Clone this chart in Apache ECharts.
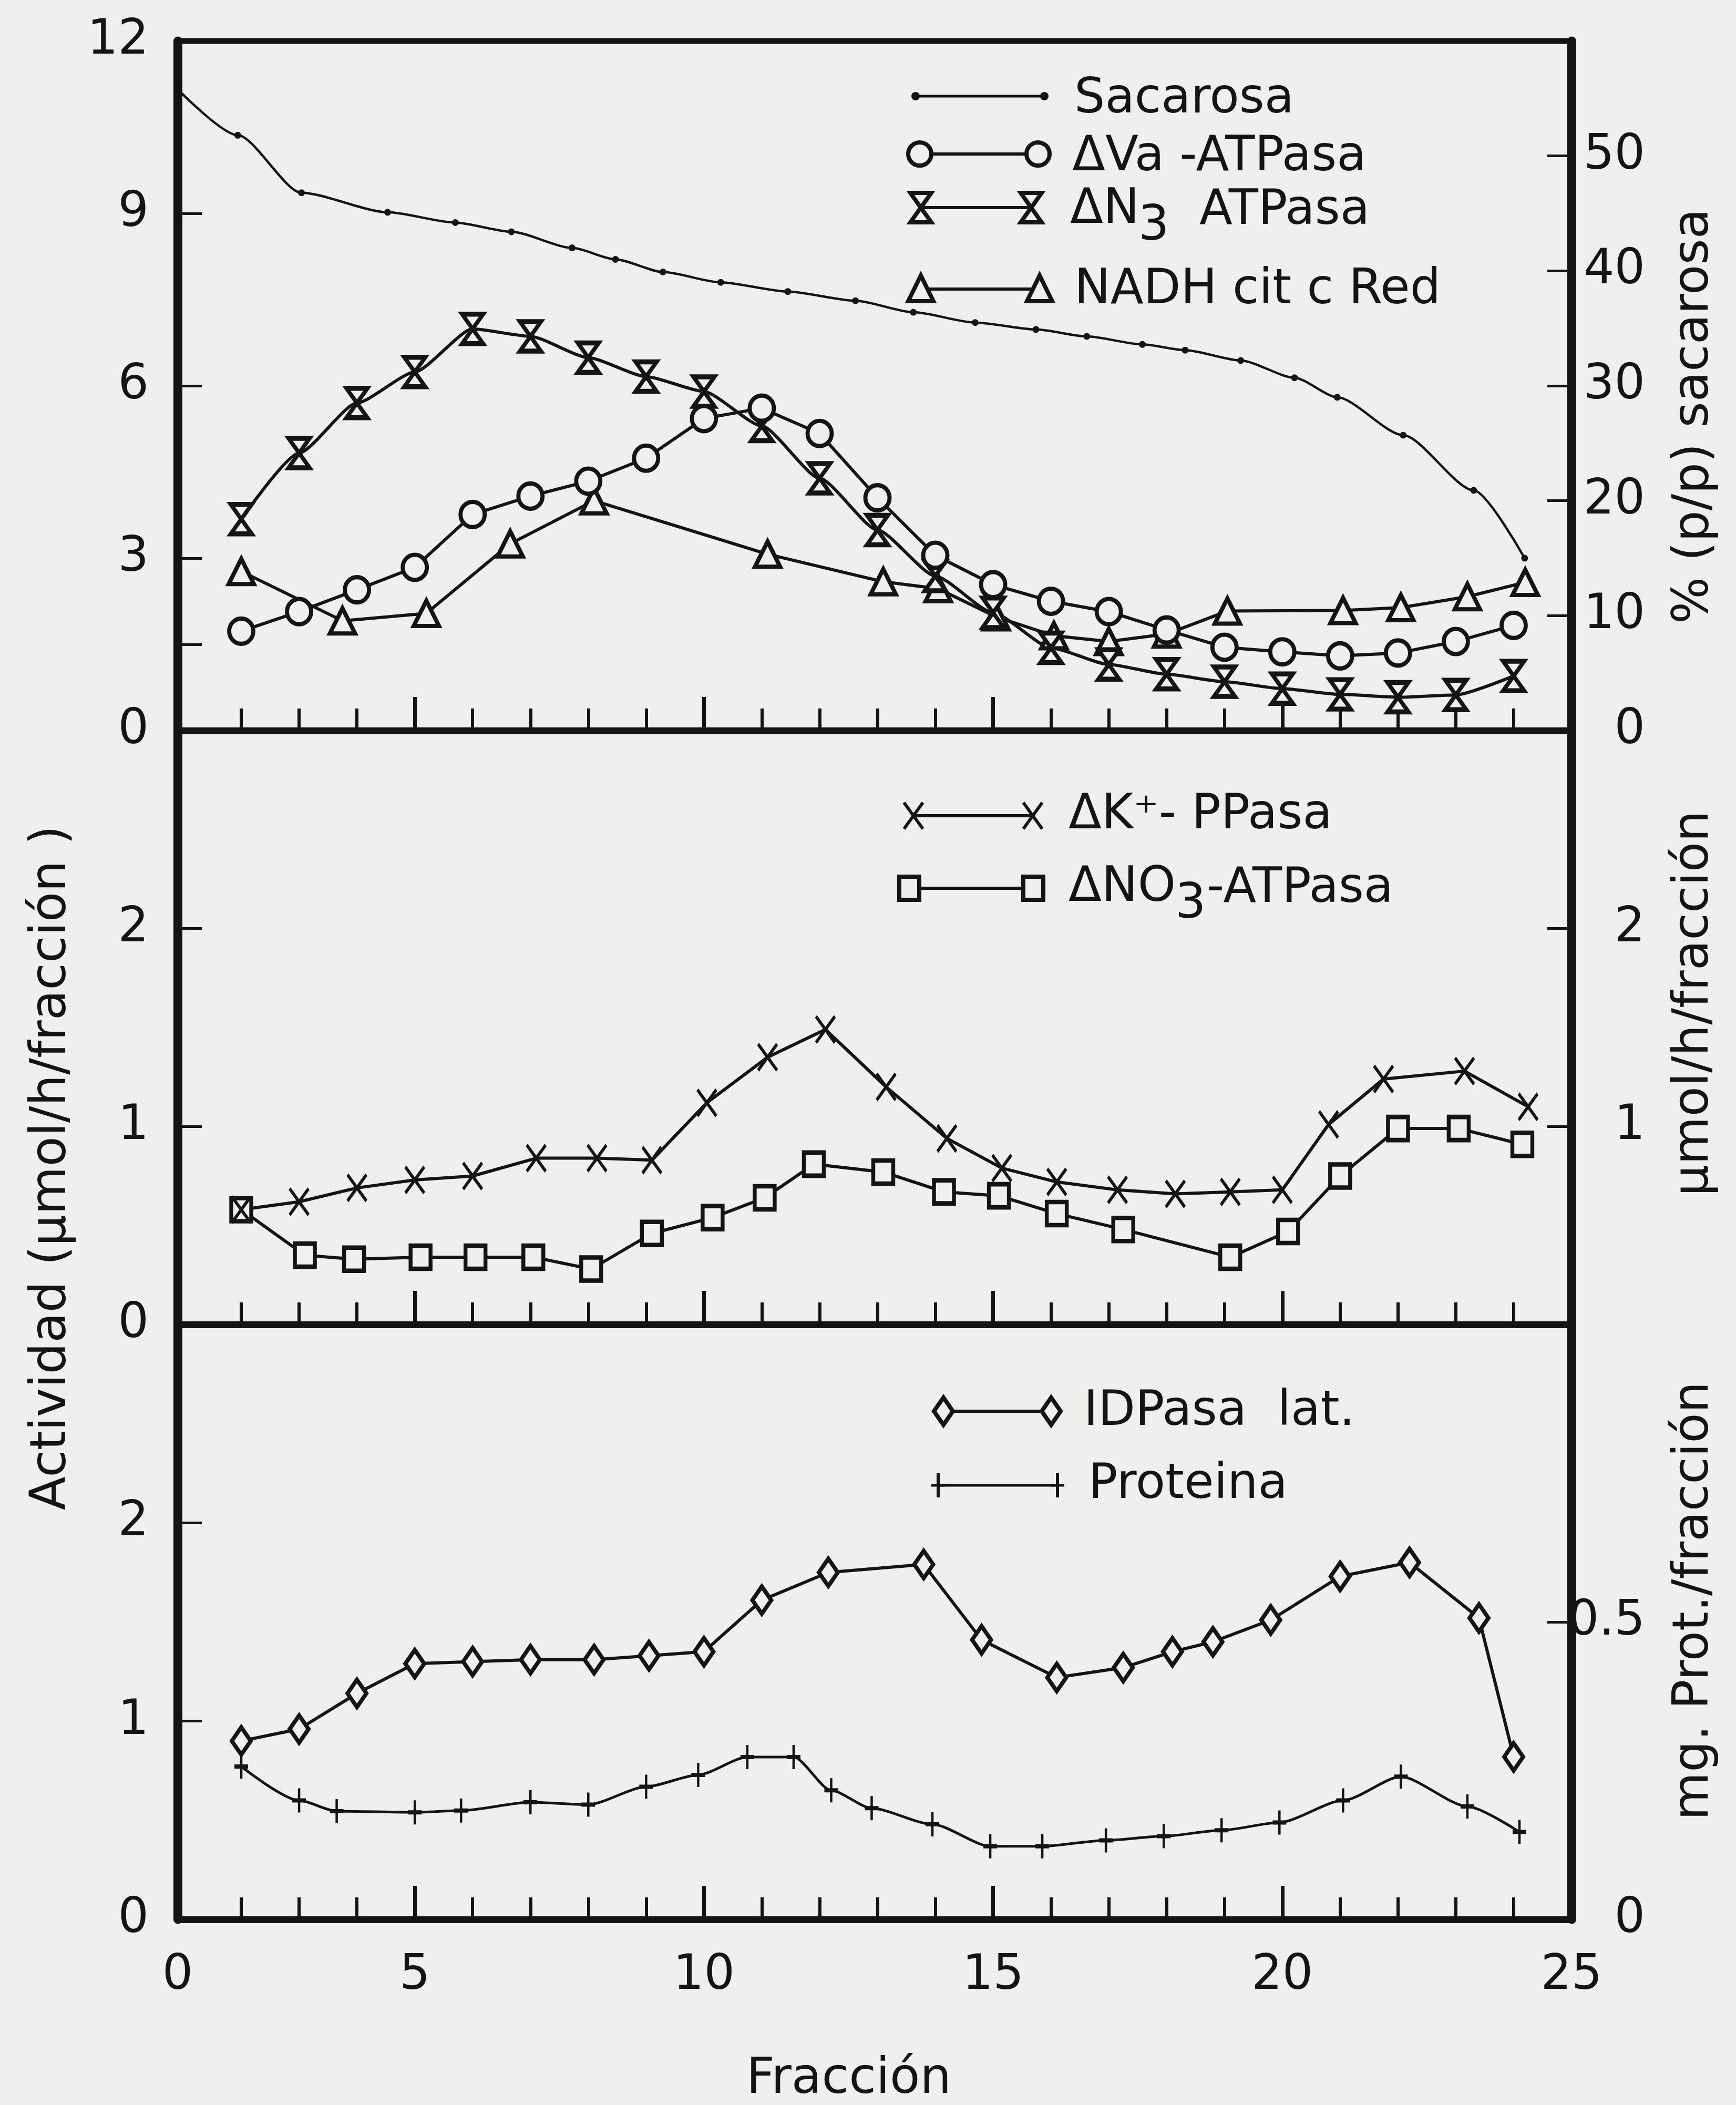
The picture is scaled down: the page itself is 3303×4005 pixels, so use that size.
<!DOCTYPE html>
<html>
<head>
<meta charset="utf-8">
<title>Fracciones del gradiente de sacarosa</title>
<script src="https://cdn.jsdelivr.net/npm/echarts@6/dist/echarts.min.js"></script>
<style>
  html, body { margin: 0; padding: 0; background: #efefed; }
  #chart { width: 3303px; height: 4005px; }
</style>
</head>
<body>
<div id="chart"></div>
<script>
// ---- datos ----
var fraccion = [2, 3, 4, 5, 6, 7, 8, 9, 10, 11, 12, 13, 14, 15, 16, 17, 18, 19, 20, 21, 22, 23, 24];

// panel superior
var sacarosaX = [0.9, 1.94, 3.04, 4.53, 5.7, 6.67, 7.72, 8.47, 9.29, 10.29, 11.45, 12.62, 13.62, 14.69, 15.74, 16.62, 17.58, 18.32, 19.28, 20.21, 20.95, 22.09, 23.31, 24.19];
var sacarosa = [55.8, 51.8, 46.8, 45.1, 44.2, 43.4, 42.0, 41.0, 39.9, 39.0, 38.2, 37.4, 36.4, 35.5, 34.9, 34.3, 33.6, 33.1, 32.2, 30.7, 29.0, 25.7, 20.9, 15.0];
var vaATPasa = [1.73, 2.07, 2.45, 2.84, 3.76, 4.08, 4.34, 4.74, 5.43, 5.61, 5.17, 4.05, 3.05, 2.54, 2.25, 2.07, 1.75, 1.45, 1.37, 1.30, 1.35, 1.55, 1.83];
var n3ATPasa = [3.68, 4.83, 5.70, 6.24, 6.99, 6.86, 6.49, 6.16, 5.90, 5.30, 4.39, 3.49, 2.69, 2.05, 1.44, 1.15, 0.98, 0.85, 0.73, 0.63, 0.58, 0.62, 0.95];
var nadhX = [2, 3.75, 5.2, 6.65, 8.1, 11.1, 13.1, 14.05, 15.05, 16.05, 17, 18, 19.05, 21.05, 22.05, 23.2, 24.2];
var nadh = [2.77, 1.91, 2.04, 3.25, 4.0, 3.07, 2.59, 2.47, 1.98, 1.65, 1.55, 1.68, 2.08, 2.09, 2.14, 2.33, 2.58];

// panel central
var kX = [2, 3, 4, 5, 6, 7.1, 8.15, 9.1, 10.05, 11.1, 12.1, 13.15, 14.2, 15.15, 16.1, 17.15, 18.15, 19.1, 20, 20.8, 21.75, 23.15, 24.25];
var kPPasa = [0.58, 0.62, 0.69, 0.73, 0.75, 0.84, 0.84, 0.83, 1.12, 1.35, 1.49, 1.2, 0.94, 0.79, 0.72, 0.68, 0.66, 0.67, 0.68, 1.01, 1.24, 1.28, 1.10];
var no3X = [2, 3.1, 3.95, 5.1, 6.05, 7.05, 8.05, 9.1, 10.15, 11.05, 11.9, 13.1, 14.15, 15.1, 16.1, 17.25, 19.1, 20.1, 21, 22, 23.05, 24.15];
var no3ATPasa = [0.58, 0.35, 0.33, 0.34, 0.34, 0.34, 0.28, 0.46, 0.54, 0.64, 0.81, 0.77, 0.67, 0.65, 0.56, 0.48, 0.34, 0.47, 0.75, 0.99, 0.99, 0.91];

// panel inferior
var idpX = [2, 3, 4, 5, 6, 7, 8.1, 9.05, 10, 11, 12.15, 13.8, 14.8, 16.1, 17.25, 18.1, 18.8, 19.8, 21, 22.2, 23.4, 24];
var idpasa = [0.90, 0.96, 1.14, 1.29, 1.30, 1.31, 1.31, 1.33, 1.35, 1.61, 1.75, 1.79, 1.41, 1.22, 1.27, 1.35, 1.40, 1.51, 1.73, 1.80, 1.52, 0.82];
var protX = [2, 3, 3.65, 5, 5.8, 7, 8, 9, 9.9, 10.75, 11.55, 12.2, 12.9, 13.95, 14.95, 15.85, 16.95, 17.95, 18.95, 19.95, 21.05, 22.05, 23.2, 24.1];
var proteina = [0.257, 0.20, 0.182, 0.18, 0.183, 0.197, 0.193, 0.223, 0.243, 0.273, 0.273, 0.217, 0.187, 0.16, 0.123, 0.123, 0.133, 0.14, 0.15, 0.163, 0.2, 0.24, 0.19, 0.147];

// marcas y etiquetas de los ejes
var ticksX = fraccion;
var ticksXGrandes = [5, 10, 15, 20];
var etiquetasX = [0.9, 5, 10, 15, 20, 25];

var ink = '#141414';
var paper = '#efefed';
var FONT = 'DejaVu Sans';

function pares(xs, ys) {
    return xs.map(function (x, i) { return [x, ys[i]]; });
}

var grids = [
    {left: 338, right: 313, top: 78, height: 1312},
    {left: 338, right: 313, top: 1390, height: 1130},
    {left: 338, right: 313, top: 2520, height: 1132}
];
grids.forEach(function (g) {
    g.show = true;
    g.borderColor = ink;
    g.borderWidth = 11;
    g.backgroundColor = 'transparent';
    g.outerBoundsMode = 'none';
});

var xAxes = [];
grids.forEach(function (g, i) {
    xAxes.push({
        type: 'value', gridIndex: i, position: 'bottom', min: 0.9, max: 25,
        axisLine: {show: true, lineStyle: {color: ink, width: 13}},
        axisTick: {show: true, inside: true, length: 42, customValues: ticksX, lineStyle: {color: ink, width: 6}},
        axisLabel: i === 2 ? {
            show: true, customValues: etiquetasX, margin: 62,
            fontSize: 92, fontFamily: FONT, color: ink,
            formatter: function (v) { return v < 1 ? '0' : String(v); }
        } : {show: false},
        splitLine: {show: false}
    });
    xAxes.push({
        type: 'value', gridIndex: i, position: 'bottom', min: 0.9, max: 25,
        axisLine: {show: false},
        axisTick: {show: true, inside: true, length: 64, customValues: ticksXGrandes, lineStyle: {color: ink, width: 7}},
        axisLabel: {show: false},
        splitLine: {show: false}
    });
});

function ejeY(grid, pos, max, labels, ticks) {
    return {
        type: 'value', gridIndex: grid, position: pos, min: 0, max: max,
        axisLine: {show: true, lineStyle: {color: ink, width: 17}},
        axisTick: {show: true, inside: true, length: 46, customValues: ticks, lineStyle: {color: ink, width: 5}},
        axisLabel: {
            show: true, customValues: labels, fontSize: 92, fontFamily: FONT, color: ink,
            margin: pos === 'left' ? 55 : 140, align: 'right'
        },
        splitLine: {show: false}
    };
}

var yAxes = [
    ejeY(0, 'left', 12, [0, 3, 6, 9, 12], [1.5, 3, 6, 9]),
    ejeY(0, 'right', 60, [0, 10, 20, 30, 40, 50], [10, 20, 30, 40, 50]),
    ejeY(1, 'left', 3, [0, 1, 2], [1, 2]),
    ejeY(1, 'right', 3, [1, 2], [1, 2]),
    ejeY(2, 'left', 3, [0, 1, 2], [1, 2]),
    ejeY(2, 'right', 1, [0, 0.5], [0.5])
];

var hourglass = 'path://M0,0 L20,0 L10,14 L20,28 L0,28 L10,14 Z';
var cruzX = 'path://M0,0 L20,28 M20,0 L0,28';
var cruzMas = 'path://M10,0 L10,30 M0,15 L20,15';

function serie(nombre, xi, yi, datos, simbolo, tam, extra) {
    var s = {
        name: nombre, type: 'line', xAxisIndex: xi, yAxisIndex: yi,
        data: datos, symbol: simbolo, symbolSize: tam, showAllSymbol: true,
        lineStyle: {color: ink, width: 6},
        itemStyle: {color: paper, borderColor: ink, borderWidth: 8},
        emphasis: {disabled: true}, silent: true
    };
    for (var k in extra) { s[k] = extra[k]; }
    return s;
}

var series = [
    serie('Sacarosa', 0, 1, pares(sacarosaX, sacarosa), 'circle', 13, {
        lineStyle: {color: ink, width: 4.5}, itemStyle: {color: ink}, smooth: 0.25, smoothMonotone: 'x'
    }),
    serie('ΔNADH cit c Red', 0, 0, pares(nadhX, nadh), 'triangle', [48, 48], {}),
    serie('ΔN3 ATPasa', 0, 0, pares(fraccion, n3ATPasa), hourglass, [40, 56], {smooth: 0.2, smoothMonotone: 'x'}),
    serie('ΔVa-ATPasa', 0, 0, pares(fraccion, vaATPasa), 'circle', [46, 48], {}),
    serie('ΔNO3-ATPasa', 2, 2, pares(no3X, no3ATPasa), 'rect', [38, 44], {}),
    serie('ΔK+-PPasa', 2, 2, pares(kX, kPPasa), cruzX, [36, 50], {
        itemStyle: {color: ink, borderColor: ink, borderWidth: 6}
    }),
    serie('Proteina', 4, 5, pares(protX, proteina), cruzMas, [26, 46], {
        itemStyle: {color: ink, borderColor: ink, borderWidth: 6}, lineStyle: {color: ink, width: 5},
        smooth: 0.25, smoothMonotone: 'x'
    }),
    serie('IDPasa lat.', 4, 4, pares(idpX, idpasa), 'diamond', [36, 52], {})
];

// ---- leyendas y titulos ----
function simboloGrafico(tipo, cx, cy) {
    var st = {fill: paper, stroke: ink, lineWidth: 8};
    if (tipo === 'punto') return [{type: 'circle', shape: {cx: cx, cy: cy, r: 8}, style: {fill: ink}}];
    if (tipo === 'circulo') return [{type: 'circle', shape: {cx: cx, cy: cy, r: 22}, style: st}];
    if (tipo === 'reloj') return [{type: 'polygon', shape: {points: [[cx - 20, cy - 28], [cx + 20, cy - 28], [cx, cy], [cx + 20, cy + 28], [cx - 20, cy + 28], [cx, cy]]}, style: st}];
    if (tipo === 'triangulo') return [{type: 'polygon', shape: {points: [[cx, cy - 26], [cx + 24, cy + 23], [cx - 24, cy + 23]]}, style: st}];
    if (tipo === 'cuadrado') return [{type: 'rect', shape: {x: cx - 19, y: cy - 22, width: 38, height: 44}, style: st}];
    if (tipo === 'rombo') return [{type: 'polygon', shape: {points: [[cx, cy - 26], [cx + 18, cy], [cx, cy + 26], [cx - 18, cy]]}, style: st}];
    if (tipo === 'equis') return [
        {type: 'line', shape: {x1: cx - 18, y1: cy - 25, x2: cx + 18, y2: cy + 25}, style: {stroke: ink, lineWidth: 6}},
        {type: 'line', shape: {x1: cx + 18, y1: cy - 25, x2: cx - 18, y2: cy + 25}, style: {stroke: ink, lineWidth: 6}}
    ];
    return [
        {type: 'line', shape: {x1: cx, y1: cy - 23, x2: cx, y2: cy + 23}, style: {stroke: ink, lineWidth: 6}},
        {type: 'line', shape: {x1: cx - 13, y1: cy, x2: cx + 13, y2: cy}, style: {stroke: ink, lineWidth: 5}}
    ];
}

function texto(t, x, y, size, rot) {
    return {
        type: 'text', x: x, y: y, rotation: rot || 0,
        style: {text: t, font: size + 'px "' + FONT + '"', fill: ink, align: rot ? 'center' : 'left', verticalAlign: 'middle'}
    };
}

var adornos = [];
function leyenda(tipo, x1, x2, y, ancho) {
    adornos.push({type: 'line', shape: {x1: x1, y1: y, x2: x2, y2: y}, style: {stroke: ink, lineWidth: ancho || 6}});
    adornos = adornos.concat(simboloGrafico(tipo, x1, y), simboloGrafico(tipo, x2, y));
}

leyenda('punto', 1742, 1987, 183, 5);
adornos.push(texto('Sacarosa', 2044, 190, 92));
leyenda('circulo', 1750, 1975, 293);
adornos.push(texto('ΔVa -ATPasa', 2040, 300, 92));
leyenda('reloj', 1752, 1962, 395);
adornos.push(texto('ΔN', 2036, 400, 92), texto('3', 2166, 432, 92), texto('ATPasa', 2282, 402, 92));
leyenda('triangulo', 1752, 1978, 550);
adornos.push(texto('NADH cit c Red', 2044, 553, 92));

leyenda('equis', 1738, 1965, 1552);
adornos.push(texto('ΔK⁺- PPasa', 2033, 1552, 92));
leyenda('cuadrado', 1730, 1966, 1690);
adornos.push(texto('ΔNO', 2033, 1690, 92), texto('3', 2236, 1722, 92), texto('-ATPasa', 2296, 1692, 92));

leyenda('rombo', 1795, 2000, 2685);
adornos.push(texto('IDPasa  lat.', 2062, 2687, 92));
leyenda('mas', 1785, 2012, 2826, 5);
adornos.push(texto('Proteina', 2071, 2826, 92));

adornos.push(
    texto('Actividad (μmol/h/fracción )', 100, 2222, 94, Math.PI / 2),
    texto('% (p/p) sacarosa', 3225, 792, 94, Math.PI / 2),
    texto('μmol/h/fracción', 3225, 1909, 94, Math.PI / 2),
    texto('mg. Prot./fracción', 3225, 3046, 94, Math.PI / 2)
);
adornos.push({
    type: 'text', x: 1615, y: 3958,
    style: {text: 'Fracción', font: '94px "' + FONT + '"', fill: ink, align: 'center', verticalAlign: 'middle'}
});

var chart = echarts.init(document.getElementById('chart'));
chart.setOption({
    backgroundColor: paper,
    animation: false,
    grid: grids,
    xAxis: xAxes,
    yAxis: yAxes,
    series: series,
    graphic: {elements: adornos}
});
window.addEventListener('resize', function () {
    chart.resize();
});
</script>
</body>
</html>
